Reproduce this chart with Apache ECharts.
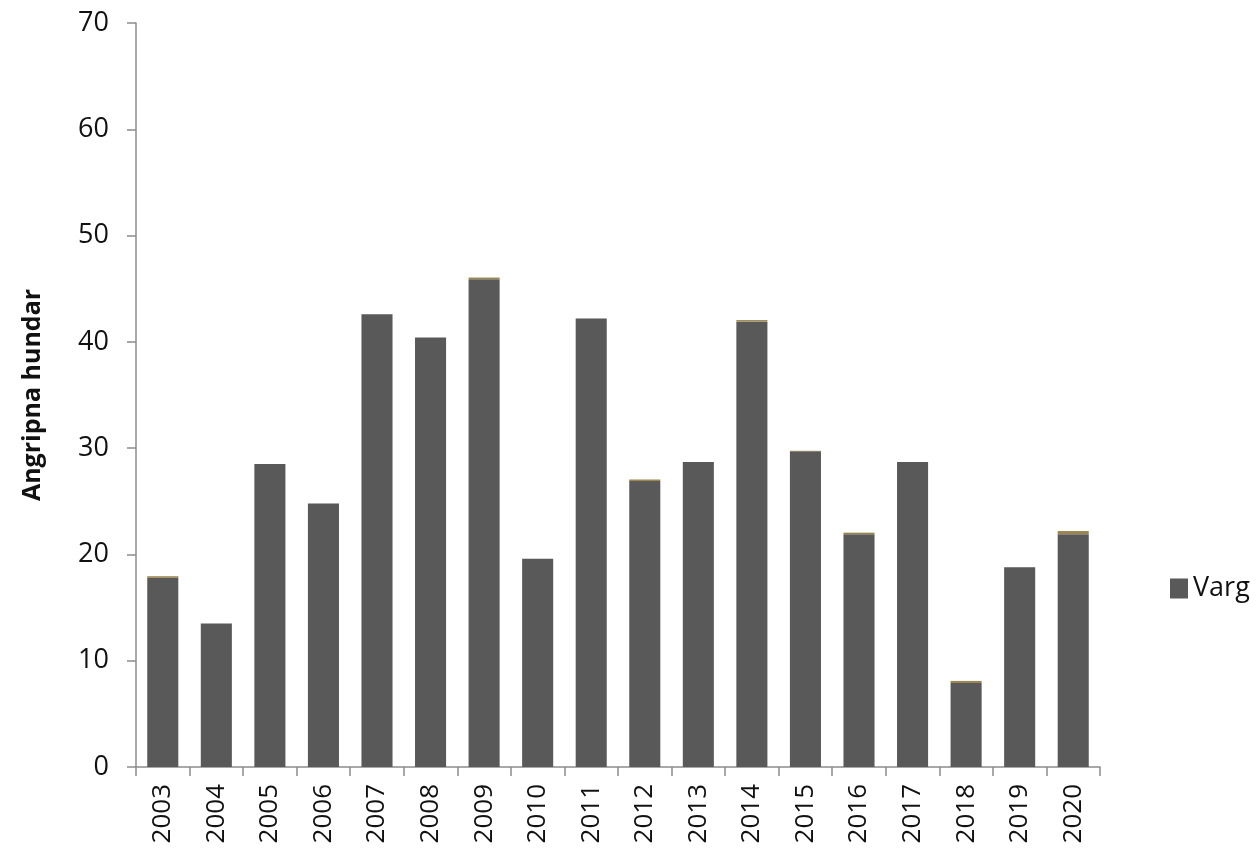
<!DOCTYPE html>
<html>
<head>
<meta charset="utf-8">
<script src="https://cdn.jsdelivr.net/npm/echarts@6/dist/echarts.min.js"></script>
<style>
  html, body { margin: 0; padding: 0; background: #fff; }
  #chart { width: 1256px; height: 856px; }
</style>
</head>
<body>
<div id="chart"></div>
<script>
const years = ['2003', '2004', '2005', '2006', '2007', '2008', '2009', '2010', '2011',
  '2012', '2013', '2014', '2015', '2016', '2017', '2018', '2019', '2020']
// main series (Varg)
const varg = [17.8, 13.5, 28.5, 24.8, 42.6, 40.4, 45.9, 19.6, 42.2,
  26.9, 28.7, 41.9, 29.7, 21.9, 28.7, 7.9, 18.8, 21.9]
// thin stacked sliver visible on top of some bars
const other = [0.15, 0, 0, 0, 0, 0, 0.15, 0, 0,
  0.15, 0, 0.15, 0.05, 0.15, 0, 0.2, 0, 0.3]
const yTicks = { min: 0, max: 70, interval: 10 }

const chart = echarts.init(document.getElementById('chart'))

const font = '"Open Sans", sans-serif'

chart.setOption({
  animation: false,
  grid: {
    left: 136,
    right: 156,
    top: 23,
    bottom: 89
  },
  legend: {
    data: ['Varg'],
    orient: 'vertical',
    left: 1165,
    top: 570,
    itemWidth: 18,
    itemHeight: 20,
    itemGap: 6,
    icon: 'rect',
    textStyle: {
      fontFamily: font,
      fontSize: 27,
      color: '#111'
    }
  },
  xAxis: {
    type: 'category',
    data: years,
    axisLine: { lineStyle: { color: '#8c8c8c', width: 1.5 } },
    axisTick: { show: true, length: 9, lineStyle: { color: '#8c8c8c', width: 1.5 } },
    axisLabel: {
      rotate: 90,
      margin: 17,
      fontFamily: font,
      fontSize: 26,
      color: '#111'
    }
  },
  yAxis: {
    type: 'value',
    min: yTicks.min,
    max: yTicks.max,
    interval: yTicks.interval,
    name: 'Angripna hundar',
    nameLocation: 'middle',
    nameGap: 91,
    nameTextStyle: {
      fontFamily: font,
      fontSize: 25,
      fontWeight: 'bold',
      color: '#111'
    },
    axisLine: { show: true, lineStyle: { color: '#8c8c8c', width: 1.5 } },
    axisTick: { show: true, length: 9, lineStyle: { color: '#8c8c8c', width: 1.5 } },
    splitLine: { show: false },
    axisLabel: {
      margin: 27,
      fontFamily: font,
      fontSize: 27,
      color: '#111'
    }
  },
  series: [
    {
      name: 'Varg',
      type: 'bar',
      stack: 'total',
      data: varg,
      barCategoryGap: '42%',
      itemStyle: { color: '#595959' }
    },
    {
      name: 'Övrigt',
      type: 'bar',
      stack: 'total',
      data: other,
      itemStyle: { color: '#9a8650' }
    }
  ]
})
</script>
</body>
</html>
